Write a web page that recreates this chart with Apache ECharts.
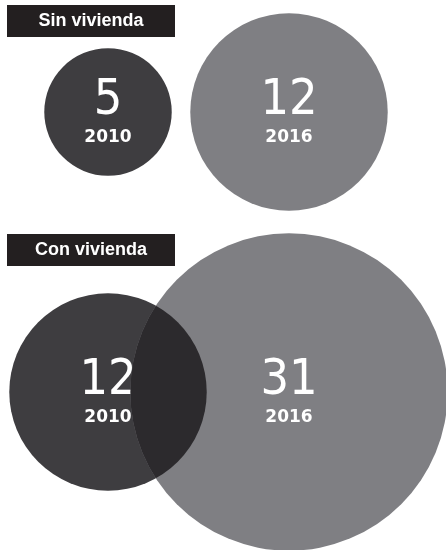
<!DOCTYPE html>
<html>
<head>
<meta charset="utf-8">
<script src="https://cdn.jsdelivr.net/npm/echarts@6/dist/echarts.min.js"></script>
<style>html,body{margin:0;padding:0;background:#fff;}#c{width:446px;height:550px;}</style>
</head>
<body>
<div id="c"></div>
<script>
const groups = ['Sin vivienda', 'Con vivienda'];
const years = ['2010', '2016'];
const values2010 = [5, 12];
const values2016 = [12, 31];

const K = 28.5; // radius per sqrt(unit)
const radius = v => K * Math.sqrt(v);

const dark = '#3e3d40';
const light = '#7f7f83';
const overlap = '#2c2a2d';

const labelCfg = (year) => ({
  show: true,
  position: 'inside',
  offset: [0, 0],
  formatter: p => '{n|' + p.value[2] + '}\n{y|' + year + '}',
  rich: {
    n: { fontSize: 50, fontFamily: 'DejaVu Sans Condensed', color: '#fff', lineHeight: 52, align: 'center' },
    y: { fontSize: 17, fontFamily: 'DejaVu Sans', fontWeight: 'bold', color: '#fff', lineHeight: 22, align: 'center' }
  }
});

const chart = echarts.init(document.getElementById('c'), null, { renderer: 'canvas' });
chart.setOption({
  backgroundColor: '#fff',
  animation: false,
  title: groups.map((g, i) => ({
    text: '{a|' + g + '}',
    left: 7,
    top: i === 0 ? 5 : 234,
    padding: 0,
    textStyle: {
      rich: {
        a: { width: 168, height: 32, align: 'center', backgroundColor: '#231f20', color: '#fff',
             fontFamily: 'Liberation Sans', fontWeight: 'bold', fontSize: 18 }
      }
    }
  })),
  grid: { left: 17.5, width: 362, top: -28, height: 560, outerBoundsMode: 'none', containLabel: false },
  xAxis: { type: 'category', data: years, show: false },
  yAxis: { type: 'category', data: groups, inverse: true, show: false },
  series: [
    {
      type: 'scatter', name: years[0], z: 2,
      data: groups.map((g, i) => [0, i, values2010[i]]),
      symbolSize: v => 2 * radius(v[2]),
      itemStyle: { color: dark, opacity: 1 },
      label: labelCfg(years[0])
    },
    {
      type: 'scatter', name: years[1], z: 2,
      data: groups.map((g, i) => [1, i, values2016[i]]),
      symbolSize: v => 2 * radius(v[2]),
      itemStyle: { color: light, opacity: 1 },
      label: labelCfg(years[1])
    },
    {
      type: 'custom', z: 5,
      coordinateSystem: 'cartesian2d',
      encode: { x: 0, y: 1 },
      data: groups.map((g, i) => [0, i, values2010[i], values2016[i]]),
      renderItem: (params, api) => {
        const g = api.value(1);
        const p1 = api.coord([0, g]);
        const p2 = api.coord([1, g]);
        return {
          type: 'circle',
          shape: { cx: p1[0], cy: p1[1], r: radius(api.value(2)) },
          style: { fill: overlap },
          clipPath: { type: 'circle', shape: { cx: p2[0], cy: p2[1], r: radius(api.value(3)) } }
        };
      }
    }
  ]
});
</script>
</body>
</html>
